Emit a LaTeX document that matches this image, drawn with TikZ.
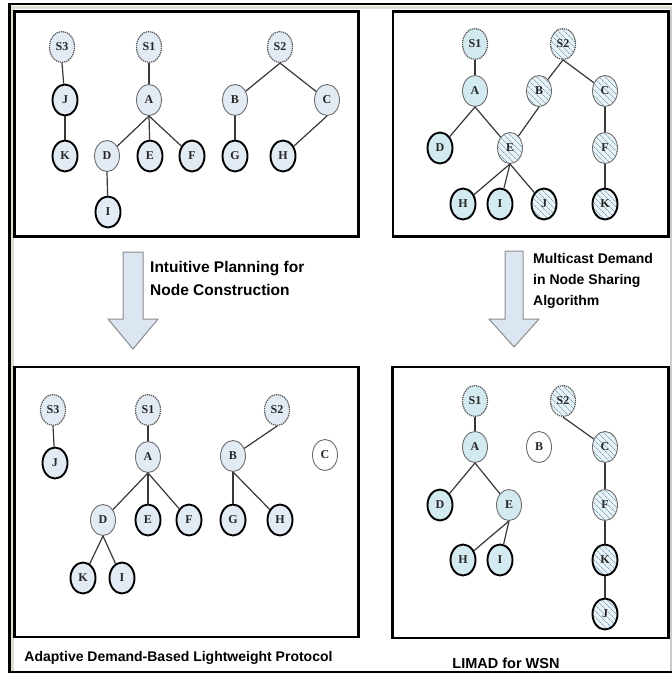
\documentclass[tikz,border=0pt]{standalone}
\usepackage{fontspec}
\setmainfont{Liberation Serif}
\newfontfamily\captionfont{Liberation Sans}
\usetikzlibrary{shapes.geometric,patterns.meta}

\definecolor{nodeblue}{HTML}{E2EAF4}
\definecolor{nodecyan}{HTML}{D3EBF0}
\definecolor{hatchbase}{HTML}{EAF4F7}
\definecolor{hatchblue}{HTML}{86A9C2}
\definecolor{rimgrey}{HTML}{6E6E6E}
\definecolor{dashgrey}{HTML}{505050}
\definecolor{edgegrey}{HTML}{383838}
\definecolor{arrowfill}{HTML}{DCE6F2}
\definecolor{arrowrim}{HTML}{8C8C8C}
\definecolor{framebeige}{HTML}{E2DFD2}

\tikzset{
  vtx/.style={ellipse, minimum width=25pt, minimum height=31pt, inner sep=0pt,
    font=\bfseries\fontsize{12}{12}\selectfont, text=black!85},
  rimthin/.style={vtx, draw=rimgrey, line width=0.9pt},
  rimthick/.style={vtx, draw=black, line width=1.9pt},
  rimdash/.style={vtx, draw=dashgrey, line width=1.2pt, dash pattern=on 1.3pt off 0.9pt},
  hatched/.style={preaction={fill=hatchbase},
    pattern={Lines[angle=-45,distance=4pt,line width=0.7pt]}, pattern color=hatchblue},
  rootB/.style={rimdash, fill=nodeblue},
  thinB/.style={rimthin, fill=nodeblue},
  thickB/.style={rimthick, fill=nodeblue},
  rootC/.style={rimdash, fill=nodecyan},
  rootH/.style={rimdash, hatched},
  thinC/.style={rimthin, fill=nodecyan},
  thickC/.style={rimthick, fill=nodecyan},
  thinH/.style={rimthin, hatched},
  thickH/.style={rimthick, hatched},
  thinW/.style={rimthin, fill=white},
  edge/.style={draw=edgegrey, line width=1.2pt},
  panel/.style={draw=black, line width=2.4pt},
  blockarrow/.style={fill=arrowfill, draw=arrowrim, line width=1pt, line join=miter},
  caption/.style={font=\captionfont\bfseries\fontsize{15.5}{23}\selectfont, align=left, inner sep=0pt},
  smallcaption/.style={font=\captionfont\bfseries\fontsize{14}{21}\selectfont, align=left, inner sep=0pt}
}

\begin{document}
\begin{tikzpicture}[x=1pt,y=-1pt]
\useasboundingbox (0,0) rectangle (672,673);
\fill[white] (0,0) rectangle (672,673);

% outer frame
\draw[framebeige, line width=3pt] (12,672) -- (12,7.5) -- (672,7.5);
\draw[black, line width=2.5pt] (9.5,673) -- (9.5,4) -- (672,4);
\draw[black, line width=1.5pt] (9.5,671.8) -- (672,671.8);
\draw[black!20, line width=2pt] (671,9) -- (671,671);

% the four panels
\draw[panel] (14.5,11.5) rectangle (358.5,236.5);
\draw[panel] (393,11.5) rectangle (668.5,236.5);
\draw[panel] (14.5,367) rectangle (358.5,637);
\draw[panel] (392.5,367) rectangle (668.5,638);

% ---------- panel 1: initial trees ----------
\node[rootB]  (aS3) at (62,47) {S3};
\node[thickB] (aJ)  at (65,100) {J};
\node[thickB] (aK)  at (65,156) {K};
\node[rootB]  (aS1) at (149,47) {S1};
\node[thinB]  (aA)  at (149,100) {A};
\node[thinB]  (aD)  at (107,156) {D};
\node[thickB] (aE)  at (150,156) {E};
\node[thickB] (aF)  at (192,156) {F};
\node[thickB] (aI)  at (108,212) {I};
\node[rootB]  (aS2) at (280,47) {S2};
\node[thinB]  (aB)  at (235,100) {B};
\node[thinB]  (aC)  at (327,100) {C};
\node[thickB] (aG)  at (235,156) {G};
\node[thickB] (aH)  at (283,156) {H};
\draw[edge] (aS3.south) -- (aJ);
\draw[edge] (aJ.south) -- (aK);
\draw[edge] (aS1.south) -- (aA);
\draw[edge] (aA.south) -- (aD);
\draw[edge] (aA.south) -- (aE);
\draw[edge] (aA.south) -- (aF);
\draw[edge] (aD.south) -- (aI);
\draw[edge] (aS2.south) -- (aB);
\draw[edge] (aS2.south) -- (aC);
\draw[edge] (aB.south) -- (aG);
\draw[edge] (aC.south) -- (aH);

% ---------- panel 2: shared trees ----------
\node[rootC]  (bS1) at (475,44) {S1};
\node[rootH]  (bS2) at (563,44) {S2};
\node[thinC]  (bA)  at (475,91) {A};
\node[thinH]  (bB)  at (539,91) {B};
\node[thinH]  (bC)  at (605,91) {C};
\node[thickC] (bD)  at (440,148) {D};
\node[thinC, hatched] (bE) at (510,148) {E};
\node[thinH]  (bF)  at (605,148) {F};
\node[thickC] (bH)  at (463,204) {H};
\node[thickC] (bI)  at (500,204) {I};
\node[thickH] (bJ)  at (544,204) {J};
\node[thickH] (bK)  at (605,204) {K};
\draw[edge] (bS1.south) -- (bA);
\draw[edge] (bS2.south) -- (bB);
\draw[edge] (bS2.south) -- (bC);
\draw[edge] (bA.south) -- (bD);
\draw[edge] (bA.south) -- (bE);
\draw[edge] (bB.south) -- (bE);
\draw[edge] (bE.south) -- (bH);
\draw[edge] (bE.south) -- (bI);
\draw[edge] (bE.south) -- (bJ);
\draw[edge] (bC.south) -- (bF);
\draw[edge] (bF.south) -- (bK);

% ---------- block arrows and their captions ----------
\draw[blockarrow] (123,252) -- (143,252) -- (143,319) -- (158,319) -- (133,349)
  -- (108,319) -- (123,319) -- cycle;
\node[caption, anchor=west] (capL) at (150,278.5) {Intuitive Planning for\\Node Construction};
\draw[blockarrow] (505,251) -- (523,251) -- (523,319) -- (539,319) -- (514,347)
  -- (489,319) -- (505,319) -- cycle;
\node[smallcaption, anchor=west] (capR) at (533,281) {Multicast Demand\\in Node Sharing\\Algorithm};

% ---------- panel 3: ADBLP ----------
\node[rootB]  (cS3) at (53,410) {S3};
\node[thickB] (cJ)  at (55,463) {J};
\node[rootB]  (cS1) at (148,410) {S1};
\node[thinB]  (cA)  at (148,457) {A};
\node[thinB]  (cD)  at (103,520) {D};
\node[thickB] (cE)  at (148,520) {E};
\node[thickB] (cF)  at (189,520) {F};
\node[thickB] (cK)  at (83,578) {K};
\node[thickB] (cI)  at (122,578) {I};
\node[rootB]  (cS2) at (277,410) {S2};
\node[thinB]  (cB)  at (233,456) {B};
\node[thinW]  (cC)  at (325,455) {C};
\node[thickB] (cG)  at (233,520) {G};
\node[thickB] (cH)  at (280,520) {H};
\draw[edge] (cS3.south) -- (cJ);
\draw[edge] (cS1.south) -- (cA);
\draw[edge] (cA.south) -- (cD);
\draw[edge] (cA.south) -- (cE);
\draw[edge] (cA.south) -- (cF);
\draw[edge] (cD.south) -- (cK);
\draw[edge] (cD.south) -- (cI);
\draw[edge] (cS2.south) -- (cB);
\draw[edge] (cB.south) -- (cG);
\draw[edge] (cB.south) -- (cH);

% ---------- panel 4: LIMAD ----------
\node[rootC]  (dS1) at (475,401) {S1};
\node[rootH]  (dS2) at (563,401) {S2};
\node[thinC]  (dA)  at (475,447) {A};
\node[thinW]  (dB)  at (539,447) {B};
\node[thinH]  (dC)  at (605,447) {C};
\node[thickC] (dD)  at (440,505) {D};
\node[thinC]  (dE)  at (509,505) {E};
\node[thinH]  (dF)  at (605,505) {F};
\node[thickC] (dH)  at (463,560) {H};
\node[thickC] (dI)  at (500,560) {I};
\node[thickH] (dK)  at (605,560) {K};
\node[thickH] (dJ)  at (605,614) {J};
\draw[edge] (dS1.south) -- (dA);
\draw[edge] (dA.south) -- (dD);
\draw[edge] (dA.south) -- (dE);
\draw[edge] (dE.south) -- (dH);
\draw[edge] (dE.south) -- (dI);
\draw[edge] (dS2.south) -- (dC);
\draw[edge] (dC.south) -- (dF);
\draw[edge] (dF.south) -- (dK);
\draw[edge] (dK.south) -- (dJ);

% panel titles
\node[smallcaption] (titleL) at (178.5,658) {Adaptive Demand-Based Lightweight Protocol};
\node[smallcaption, font=\captionfont\bfseries\fontsize{14.5}{17}\selectfont] (titleR) at (506,663) {LIMAD for WSN};
\end{tikzpicture}
\end{document}
